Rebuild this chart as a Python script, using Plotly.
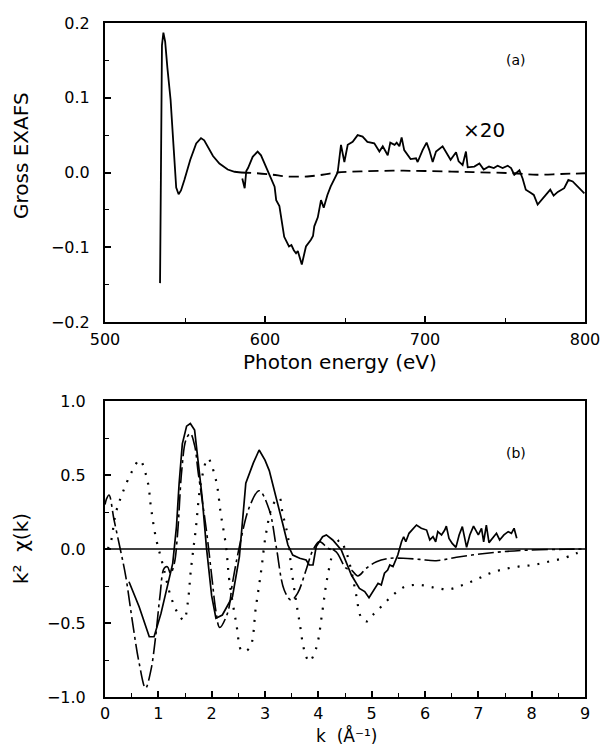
import plotly.graph_objects as go

# ---------------- Panel (a) data ----------------
# near-edge gross EXAFS (unscaled)
edge_E = [534.4, 535.6, 536.5, 537.6, 539.0, 541.0, 543.0, 544.5, 546.0, 547.5, 549.6,
          553.3, 557.0, 560.0, 562.0, 564.0, 567.5, 571.5, 576.7, 581.0, 585.0]
edge_V = [-0.148, 0.17, 0.187, 0.175, 0.14, 0.097, 0.03, -0.02, -0.029, -0.024, -0.010,
          0.017, 0.039, 0.046, 0.043, 0.035, 0.022, 0.012, 0.004, 0.001, 0.0]

# extended region (x20)
ext_E = [585.8, 587.3, 588.3, 589.4, 592.3, 595.4, 597.5, 601.7, 604.0, 606.0, 607.0, 609.0,
         612.0, 615.0, 616.5, 618.0, 619.4, 620.5, 623.0, 625.6, 628.7, 630.0, 630.8, 633.0,
         635.0, 636.7, 639.0, 641.0, 645.4, 647.5, 649.6, 651.7, 654.8, 657.9, 661.0, 664.0,
         668.3, 671.5, 673.6, 676.7, 678.3, 681.0, 682.3, 684.0, 685.4, 687.0, 691.0, 694.4,
         695.4, 698.5, 701.0, 702.7, 704.8, 706.9, 711.0, 714.0, 716.0, 719.4, 721.0, 723.5,
         725.6, 726.7, 730.8, 734.0, 736.7, 740.0, 743.0, 745.4, 748.5, 751.7, 753.8, 755.8,
         759.0, 761.0, 763.0, 766.0, 768.0, 770.4, 773.5, 776.0, 778.3, 780.4, 783.0, 787.0,
         789.6, 792.3, 796.5, 799.6]
ext_V = [-0.008, -0.021, 0.002, 0.006, 0.021, 0.028, 0.023, 0.003, -0.010, -0.019, -0.037, -0.045,
         -0.086, -0.099, -0.097, -0.104, -0.108, -0.105, -0.123, -0.099, -0.090, -0.085, -0.072, -0.060,
         -0.037, -0.047, -0.030, -0.019, 0.000, 0.037, 0.014, 0.037, 0.041, 0.050, 0.048, 0.041,
         0.039, 0.028, 0.035, 0.023, 0.040, 0.037, 0.040, 0.035, 0.047, 0.030, 0.018, 0.019,
         0.014, 0.030, 0.040, 0.030, 0.014, 0.028, 0.035, 0.023, 0.017, 0.027, 0.015, 0.010,
         0.028, 0.007, 0.008, 0.012, 0.004, 0.008, 0.006, 0.009, 0.006, 0.009, 0.006, -0.003,
         0.003, -0.008, -0.023, -0.027, -0.030, -0.043, -0.035, -0.028, -0.023, -0.031, -0.026, -0.021,
         -0.010, -0.012, -0.021, -0.028]

# background (dashed)
bg_E = [585, 595, 605, 612, 620, 628, 636, 645, 660, 680, 700, 730, 755, 770, 785, 800]
bg_V = [0.0, -0.001, -0.003, -0.005, -0.0056, -0.005, -0.003, 0.0, 0.0015, 0.0024, 0.002, 0.0005,
        -0.001, -0.003, -0.002, -0.001]

# ---------------- Panel (b) data ----------------
# experimental k^2 chi(k) (solid)
exp_k = [0.45, 0.64, 0.83, 0.92, 1.05, 1.17, 1.27, 1.34, 1.39, 1.45, 1.53, 1.60, 1.68, 1.75,
         1.82, 1.90, 2.00, 2.08, 2.20, 2.39, 2.52, 2.64, 2.78, 2.89, 3.00, 3.08, 3.21, 3.33,
         3.43, 3.46, 3.52, 3.65, 3.77, 3.83, 3.90, 3.96, 4.08, 4.15, 4.27, 4.43, 4.55, 4.62,
         4.77, 4.87, 4.95, 5.02, 5.12, 5.18, 5.24, 5.30, 5.34, 5.40, 5.49, 5.56, 5.60, 5.64,
         5.70, 5.84, 5.93, 6.03, 6.09, 6.15, 6.20, 6.24, 6.31, 6.37, 6.40, 6.45, 6.51, 6.58,
         6.64, 6.70, 6.75, 6.78, 6.84, 6.91, 7.00, 7.06, 7.10, 7.15, 7.20, 7.28, 7.34, 7.40,
         7.48, 7.56, 7.62, 7.67, 7.72]
exp_v = [-0.221, -0.39, -0.593, -0.593, -0.435, -0.255, -0.097, 0.151, 0.444, 0.71, 0.83, 0.848, 0.803, 0.579,
         0.355, 0.018, -0.317, -0.468, -0.446, -0.322, -0.052, 0.444, 0.58, 0.669, 0.60, 0.53, 0.353, 0.174,
         0.027, 0.005, -0.041, -0.063, -0.074, -0.108, -0.108, 0.016, 0.083, 0.095, 0.061, -0.007, -0.12, -0.176,
         -0.266, -0.288, -0.329, -0.288, -0.232, -0.243, -0.164, -0.142, -0.108, -0.119, -0.041, 0.049, 0.083, 0.049,
         0.106, 0.162, 0.140, 0.128, 0.061, 0.083, 0.049, 0.117, 0.095, 0.128, 0.155, 0.072, 0.038, 0.011,
         0.095, 0.151, 0.072, 0.011, 0.095, 0.155, 0.095, 0.140, 0.049, 0.162, 0.043, 0.083, 0.106, 0.061,
         0.095, 0.117, 0.106, 0.140, 0.072]

# theory (dash-dot)
th_k = [0.0, 0.03, 0.075, 0.17, 0.29, 0.39, 0.51, 0.64, 0.76, 0.86, 0.95, 1.03, 1.11, 1.17,
        1.23, 1.30, 1.36, 1.44, 1.52, 1.60, 1.68, 1.75, 1.90, 2.00, 2.08, 2.15, 2.30, 2.39,
        2.52, 2.71, 2.89, 3.08, 3.21, 3.36, 3.49, 3.61, 3.77, 3.90, 4.02, 4.18, 4.33, 4.52,
        4.62, 4.74, 4.90, 5.09, 5.34, 5.59, 5.90, 6.21, 6.59, 7.03, 7.47, 7.97, 8.59, 9.0]
th_v = [0.30, 0.34, 0.365, 0.196, -0.007, -0.187, -0.48, -0.77, -0.94, -0.82, -0.59, -0.32, -0.13, -0.12,
        -0.165, -0.097, 0.10, 0.534, 0.74, 0.78, 0.70, 0.51, 0.13, -0.18, -0.42, -0.53, -0.43, -0.23,
        0.016, 0.286, 0.394, 0.264, 0.016, -0.277, -0.345, -0.30, -0.142, -0.007, 0.05, 0.005, -0.018, -0.13,
        -0.142, -0.182, -0.13, -0.086, -0.063, -0.063, -0.07, -0.079, -0.056, -0.034, -0.018, -0.007, -0.002, 0.0]

# model (dotted)
dot_k = [0.05, 0.11, 0.20, 0.33, 0.50, 0.65, 0.80, 0.86, 0.95, 1.09, 1.23, 1.36, 1.48, 1.55,
         1.61, 1.70, 1.80, 1.93, 2.08, 2.17, 2.27, 2.33, 2.46, 2.57, 2.71, 2.83, 2.93, 3.02,
         3.15, 3.27, 3.33, 3.43, 3.49, 3.58, 3.65, 3.74, 3.83, 3.96, 4.08, 4.16, 4.28, 4.40,
         4.52, 4.62, 4.71, 4.80, 4.90, 5.02, 5.21, 5.40, 5.62, 5.90, 6.18, 6.45, 6.71, 6.97,
         7.22, 7.47, 7.75, 8.03, 8.31, 8.59, 8.84, 9.0]
dot_v = [0.0, 0.049, 0.24, 0.38, 0.52, 0.60, 0.455, 0.286, 0.083, -0.115, -0.317, -0.43, -0.48, -0.367,
         -0.142, 0.128, 0.45, 0.61, 0.466, 0.24, 0.016, -0.21, -0.50, -0.69, -0.67, -0.39, -0.142, 0.106,
         0.30, 0.345, 0.24, 0.083, -0.12, -0.345, -0.50, -0.69, -0.76, -0.67, -0.41, -0.21, -0.02, 0.061,
         -0.018, -0.15, -0.311, -0.46, -0.49, -0.446, -0.378, -0.311, -0.255, -0.243, -0.261, -0.272, -0.243, -0.205,
         -0.164, -0.137, -0.119, -0.108, -0.086, -0.063, -0.029, -0.01]

xa_ticks = [500, 600, 700, 800]
ya_ticks = [-0.2, -0.1, 0.0, 0.1, 0.2]
xb_ticks = [0, 1, 2, 3, 4, 5, 6, 7, 8, 9]
yb_ticks = [-1.0, -0.5, 0.0, 0.5, 1.0]

FONT = "DejaVu Sans"
BLACK = "black"

fig = go.Figure()

fig.add_trace(go.Scatter(x=edge_E + [None] + ext_E, y=edge_V + [None] + ext_V,
                         mode="lines", line=dict(color=BLACK, width=1.8),
                         xaxis="x", yaxis="y", showlegend=False))
fig.add_trace(go.Scatter(x=bg_E, y=bg_V, mode="lines",
                         line=dict(color=BLACK, width=1.8, dash="10px,6px"),
                         line_shape="spline",
                         xaxis="x", yaxis="y", showlegend=False))

# panel (b)
fig.add_trace(go.Scatter(x=[0, 9], y=[0, 0], mode="lines",
                         line=dict(color=BLACK, width=1.6),
                         xaxis="x2", yaxis="y2", showlegend=False))
fig.add_trace(go.Scatter(x=dot_k, y=dot_v, mode="lines", line_shape="spline",
                         line=dict(color=BLACK, width=2.2, dash="2px,8px"),
                         xaxis="x2", yaxis="y2", showlegend=False))
fig.add_trace(go.Scatter(x=th_k, y=th_v, mode="lines", line_shape="spline",
                         line=dict(color=BLACK, width=1.6, dash="16px,4px,3px,4px"),
                         xaxis="x2", yaxis="y2", showlegend=False))
fig.add_trace(go.Scatter(x=exp_k, y=exp_v, mode="lines",
                         line=dict(color=BLACK, width=1.7),
                         xaxis="x2", yaxis="y2", showlegend=False))

axis_common = dict(showline=True, mirror=True, linecolor=BLACK, linewidth=2,
                   ticks="inside", ticklen=6, tickwidth=1.5, tickcolor=BLACK,
                   showgrid=False, zeroline=False,
                   tickfont=dict(family=FONT, size=16, color=BLACK))

fig.update_layout(
    width=611, height=746,
    margin=dict(l=105, r=26, t=23, b=49),
    paper_bgcolor="white", plot_bgcolor="white",
    xaxis=dict(domain=[0, 1], anchor="y", range=[500, 800], tickvals=xa_ticks,
               minor=dict(dtick=50, ticks="inside", ticklen=4, tickcolor=BLACK, tickwidth=1.2),
               ticklabelstandoff=2, **axis_common),
    yaxis=dict(domain=[1 - 299 / 674, 1], anchor="x", range=[-0.2, 0.2], tickvals=ya_ticks,
               tickformat=".1f",
               minor=dict(dtick=0.05, ticks="inside", ticklen=4, tickcolor=BLACK, tickwidth=1.2),
               ticklabelstandoff=10, **axis_common),
    xaxis2=dict(domain=[0, 1], anchor="y2", range=[0, 9], tickvals=xb_ticks,
                minor=dict(dtick=0.5, ticks="inside", ticklen=4, tickcolor=BLACK, tickwidth=1.2),
                ticklabelstandoff=1, **axis_common),
    yaxis2=dict(domain=[0, 296 / 674], anchor="x2", range=[-1.0, 1.0], tickvals=yb_ticks,
                tickformat=".1f",
                minor=dict(dtick=0.25, ticks="inside", ticklen=4, tickcolor=BLACK, tickwidth=1.2),
                ticklabelstandoff=14, **axis_common),
)

big_font = dict(family=FONT, size=20, color=BLACK)
fig.add_annotation(text="Gross EXAFS", xref="paper", yref="paper", x=-0.175, y=1 - (156 - 23) / 674,
                   textangle=-90, showarrow=False, font=big_font, xanchor="center", yanchor="middle")
fig.add_annotation(text="Photon energy (eV)", xref="paper", yref="paper", x=(340 - 105) / 480,
                   y=1 - (362 - 23) / 674, showarrow=False, font=big_font,
                   xanchor="center", yanchor="middle")
fig.add_annotation(text="k²  χ(k)", xref="paper", yref="paper", x=-0.175,
                   y=1 - (549 - 23) / 674, textangle=-90, showarrow=False, font=big_font,
                   xanchor="center", yanchor="middle")
fig.add_annotation(text="k  (Å⁻¹)", xref="paper", yref="paper", x=(346 - 105) / 480,
                   y=1 - (735 - 23) / 674, showarrow=False,
                   font=dict(family=FONT, size=17, color=BLACK),
                   xanchor="center", yanchor="middle")
fig.add_annotation(text="×20", xref="x", yref="y", x=737, y=0.057, showarrow=False,
                   font=dict(family=FONT, size=20, color=BLACK))
fig.add_annotation(text="(a)", xref="x", yref="y", x=757, y=0.15, showarrow=False,
                   font=dict(family=FONT, size=14, color=BLACK))
fig.add_annotation(text="(b)", xref="x2", yref="y2", x=7.7, y=0.65, showarrow=False,
                   font=dict(family=FONT, size=14, color=BLACK))

fig.write_html("out.html", config={"displayModeBar": False},
               post_script="document.body.style.margin='0';document.body.style.overflow='hidden';")
